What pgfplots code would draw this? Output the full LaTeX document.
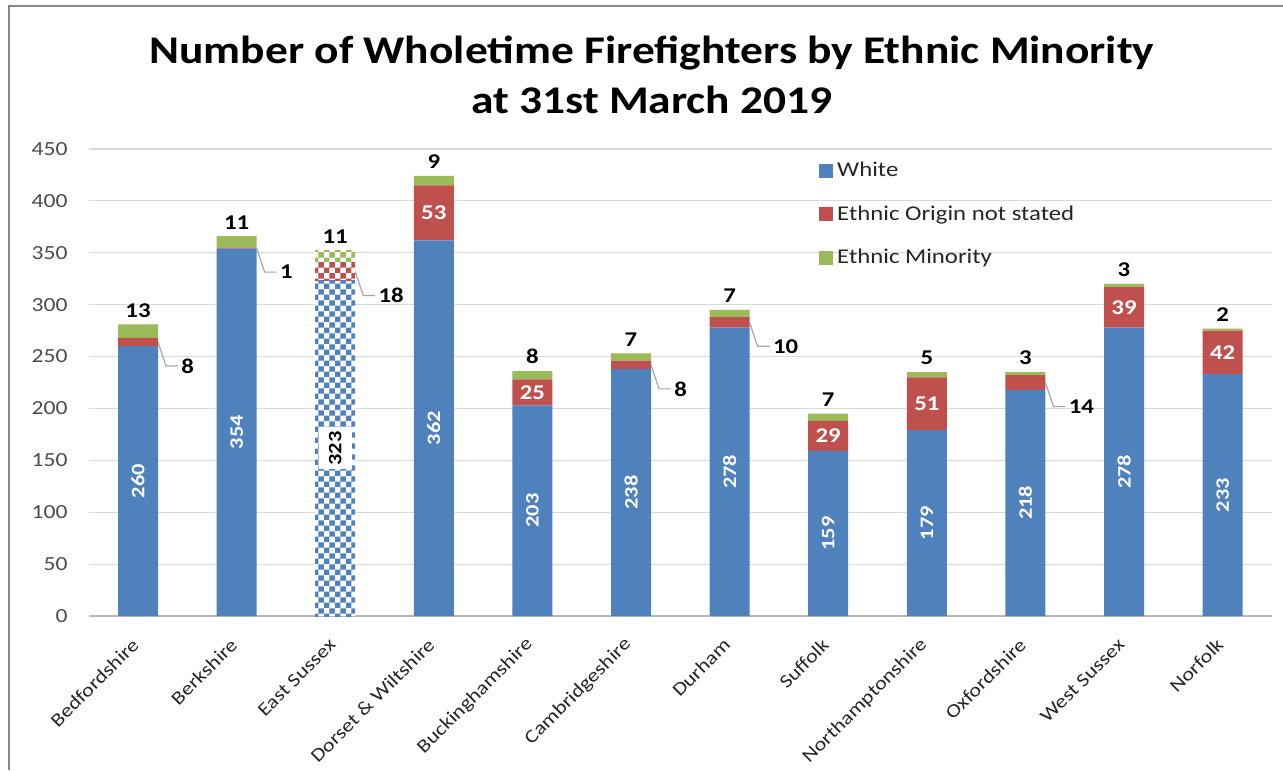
\documentclass[border=0pt]{standalone}
\usepackage{fontspec}
\setmainfont{Carlito}[FakeStretch=1.18]
\newfontfamily\titlefont{Carlito}[FakeStretch=1.16]
\usepackage{pgfplots}
\pgfplotsset{compat=1.18}
\usetikzlibrary{patterns.meta}
\definecolor{cblue}{HTML}{4F81BD}
\definecolor{cred}{HTML}{C0504D}
\definecolor{cgreen}{HTML}{9BBB59}
\definecolor{cgrid}{HTML}{D9D9D9}
\definecolor{cframe}{HTML}{868686}
\definecolor{cleader}{HTML}{A6A6A6}
\pgfdeclarepattern{
  name=mychecker,
  type=uncolored,
  bottom left={\pgfpoint{0pt}{0pt}},
  top right={\pgfpoint{5.4pt}{5.4pt}},
  tile size={\pgfpoint{5.4pt}{5.4pt}},
  code={
    \pgfpathrectangle{\pgfpointorigin}{\pgfpoint{2.7pt}{2.7pt}}
    \pgfpathrectangle{\pgfpoint{2.7pt}{2.7pt}}{\pgfpoint{2.7pt}{2.7pt}}
    \pgfusepath{fill}
  }
}
% main series (East Sussex drawn separately with a pattern)
\pgfplotstableread{
x white notstated minority
0 260 8 13
1 354 1 11
2 0 0 0
3 362 53 9
4 203 25 8
5 238 8 7
6 278 10 7
7 159 29 7
8 179 51 5
9 218 14 3
10 278 39 3
11 233 42 2
}\maindata
\pgfplotstableread{
x white notstated minority
0 0 0 0
1 0 0 0
2 323 18 11
3 0 0 0
4 0 0 0
5 0 0 0
6 0 0 0
7 0 0 0
8 0 0 0
9 0 0 0
10 0 0 0
11 0 0 0
}\esdata
% label positions
\pgfplotstableread{
x y l
0 130 260
1 177 354
3 181 362
4 101.5 203
5 119 238
6 139 278
7 79.5 159
8 89.5 179
9 109 218
10 139 278
11 116.5 233
}\whitelabels
\pgfplotstableread{
x y l
3 388.5 53
4 215.5 25
7 173.5 29
8 204.5 51
10 297.5 39
11 254 42
}\redinlabels
\pgfplotstableread{
x y l
0 264 8
1 354.5 1
2 332 18
5 242 8
6 283 10
9 225 14
}\redoutlabels
\pgfplotstableread{
x y l
0 281 13
1 366 11
2 352 11
3 424 9
4 236 8
5 253 7
6 295 7
7 195 7
8 235 5
9 235 3
10 320 3
11 277 2
}\toplabels
\begin{document}
\begin{tikzpicture}
\useasboundingbox (0,0) rectangle (641.5pt,385pt);
\fill[white] (0,0) rectangle (641.5pt,385pt);
\draw[cframe, line width=1.2pt] (4.5pt,0) -- (4.5pt,382pt) -- (641.5pt,382pt);
\node[font=\titlefont\bfseries\fontsize{19.6}{25}\selectfont, align=center] at (326pt,347.5pt)
  {Number of Wholetime Firefighters by Ethnic Minority\\at 31st March 2019};
\pgfplotsset{common/.style={at={(44.35pt,77pt)}, anchor=south west, scale only axis,
  width=591.6pt, height=233.5pt, xmin=-0.5, xmax=11.5, ymin=0, ymax=450, enlargelimits=false}}
\begin{axis}[common,
  ybar stacked, bar width=20pt,
  axis x line*=bottom, axis y line*=left,
  y axis line style={draw=none},
  x axis line style={draw=cgrid!85!black, line width=0.6pt},
  ymajorgrids, grid style={cgrid, line width=0.6pt},
  ytick={0,50,...,450},
  xtick={0,...,11},
  xticklabels={Bedfordshire, Berkshire, East Sussex, Dorset \& Wiltshire, Buckinghamshire, Cambridgeshire, Durham, Suffolk, Northamptonshire, Oxfordshire, West Sussex, Norfolk},
  major tick length=0pt,
  /pgf/number format/assume math mode=true,
  yticklabel style={font=\fontsize{10}{12}\selectfont, text=black!70, xshift=-7pt},
  xticklabel style={font=\fontsize{9.4}{11}\selectfont, text=black!85, shift={(-0.5pt,-12pt)}, rotate=45, anchor=east, inner sep=1pt},
  legend style={at={(0.612,0.99)}, anchor=north west, draw=none, fill=none,
    font=\fontsize{10.5}{12.6}\selectfont, text=black!85, row sep=9pt,
    /tikz/every even column/.append style={column sep=2pt}},
  legend cell align=left,
  legend image code/.code={\fill[#1] (0pt,-3.5pt) rectangle (7pt,3.5pt);},
]
\addplot[fill=cblue, draw=none] table[x=x, y=white] {\maindata};
\addlegendentry{White}
\addplot[fill=cred, draw=none] table[x=x, y=notstated] {\maindata};
\addlegendentry{Ethnic Origin not stated}
\addplot[fill=cgreen, draw=none] table[x=x, y=minority] {\maindata};
\addlegendentry{Ethnic Minority}
\addplot[forget plot, draw=none, fill=white, postaction={pattern=mychecker, pattern color=cblue}] table[x=x, y=white] {\esdata};
\addplot[forget plot, draw=none, fill=white, postaction={pattern=mychecker, pattern color=cred}] table[x=x, y=notstated] {\esdata};
\addplot[forget plot, draw=none, fill=white, postaction={pattern=mychecker, pattern color=cgreen}] table[x=x, y=minority] {\esdata};
\end{axis}
\begin{axis}[common, hide axis, clip=false]
\addplot[draw=none, mark=none, nodes near coords, point meta=explicit symbolic,
  nodes near coords style={anchor=center, rotate=90, text=white, font=\bfseries\fontsize{9.5}{11}\selectfont}]
  table[x=x, y=y, meta=l] {\whitelabels};
\addplot[draw=none, mark=none, nodes near coords, point meta=explicit symbolic,
  nodes near coords style={anchor=center, rotate=90, text=black, fill=white, inner xsep=2pt, inner ysep=5pt, font=\bfseries\fontsize{9.5}{11}\selectfont}]
  coordinates {(2,161.5)[323]};
\addplot[draw=none, mark=none, nodes near coords, point meta=explicit symbolic,
  nodes near coords style={anchor=center, text=white, font=\bfseries\fontsize{10.5}{12}\selectfont}]
  table[x=x, y=y, meta=l] {\redinlabels};
\addplot[draw=none, mark=none, nodes near coords, point meta=explicit symbolic,
  nodes near coords style={anchor=west, xshift=20pt, yshift=-12pt, inner sep=1.5pt, text=black, font=\bfseries\fontsize{10.5}{12}\selectfont}]
  table[x=x, y=y, meta=l] {\redoutlabels};
\addplot[draw=none, mark=none, nodes near coords, point meta=explicit symbolic,
  nodes near coords style={anchor=south, text=black, font=\bfseries\fontsize{10.5}{12}\selectfont}]
  table[x=x, y=y, meta=l] {\toplabels};
\draw[cleader, line width=0.6pt] ([xshift=10pt]axis cs:0,264) -- ([xshift=14pt,yshift=-12pt]axis cs:0,264) -- ([xshift=20pt,yshift=-12pt]axis cs:0,264);
\draw[cleader, line width=0.6pt] ([xshift=10pt]axis cs:1,354.5) -- ([xshift=14pt,yshift=-12pt]axis cs:1,354.5) -- ([xshift=20pt,yshift=-12pt]axis cs:1,354.5);
\draw[cleader, line width=0.6pt] ([xshift=10pt]axis cs:2,332) -- ([xshift=14pt,yshift=-12pt]axis cs:2,332) -- ([xshift=20pt,yshift=-12pt]axis cs:2,332);
\draw[cleader, line width=0.6pt] ([xshift=10pt]axis cs:5,242) -- ([xshift=14pt,yshift=-12pt]axis cs:5,242) -- ([xshift=20pt,yshift=-12pt]axis cs:5,242);
\draw[cleader, line width=0.6pt] ([xshift=10pt]axis cs:6,283) -- ([xshift=14pt,yshift=-12pt]axis cs:6,283) -- ([xshift=20pt,yshift=-12pt]axis cs:6,283);
\draw[cleader, line width=0.6pt] ([xshift=10pt]axis cs:9,225) -- ([xshift=14pt,yshift=-12pt]axis cs:9,225) -- ([xshift=20pt,yshift=-12pt]axis cs:9,225);
\end{axis}
\end{tikzpicture}
\end{document}
